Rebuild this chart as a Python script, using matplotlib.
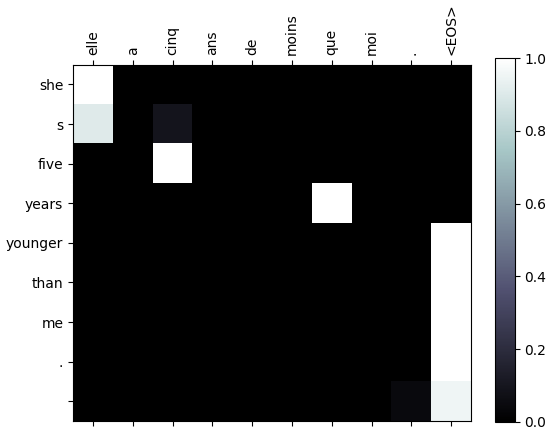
import numpy as np
import matplotlib
matplotlib.use("Agg")
import matplotlib.pyplot as plt

input_words = ["elle", "a", "cinq", "ans", "de", "moins", "que", "moi", ".", "<EOS>"]
output_words = ["she", "s", "five", "years", "younger", "than", "me", ".", ""]

row_she = [1.0, 0, 0, 0, 0, 0, 0, 0, 0, 0]
row_s = [0.91, 0, 0.09, 0, 0, 0, 0, 0, 0, 0]
row_five = [0, 0, 1.0, 0, 0, 0, 0, 0, 0, 0]
row_years = [0, 0, 0, 0, 0, 0, 1.0, 0, 0, 0]
row_younger = [0, 0, 0, 0, 0, 0, 0, 0, 0, 1.0]
row_than = [0, 0, 0, 0, 0, 0, 0, 0, 0, 1.0]
row_me = [0, 0, 0, 0, 0, 0, 0, 0, 0, 1.0]
row_dot = [0, 0, 0, 0, 0, 0, 0, 0, 0, 1.0]
row_end = [0, 0, 0, 0, 0, 0, 0, 0, 0.045, 0.955]

attn = np.array([row_she, row_s, row_five, row_years, row_younger,
                 row_than, row_me, row_dot, row_end])

fig = plt.figure(figsize=(5.51, 4.40), dpi=100)
ax = fig.add_axes([73/551, 19/440, 398/551, 356.3/440])
cax = fig.add_axes([495/551, 18.3/440, 19.5/551, 363.4/440])

im = ax.matshow(attn, cmap="bone", vmin=0, vmax=1, aspect="auto")
fig.colorbar(im, cax=cax)

ax.set_xticks(np.arange(len(input_words)))
ax.set_xticklabels(input_words, rotation=90)
ax.set_yticks(np.arange(len(output_words)))
ax.set_yticklabels(output_words)

fig.savefig("out.png", dpi=100)
